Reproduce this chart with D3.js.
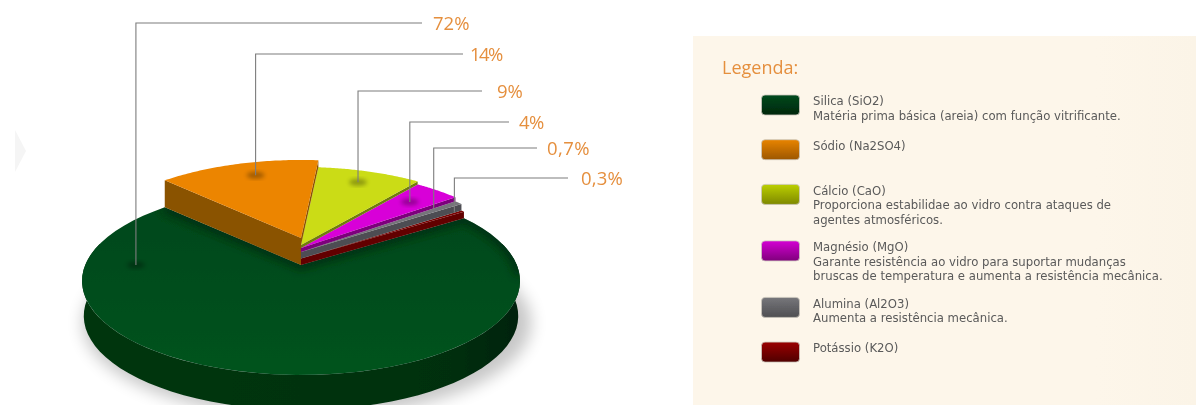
<!DOCTYPE html>
<html><head><meta charset="utf-8">
<script src="https://d3js.org/d3.v7.min.js"></script>
<style>html,body{margin:0;padding:0;background:#fff;overflow:hidden}svg{display:block}</style>
</head><body><svg id="c" width="1196" height="405"></svg>
<script>
// ---- data ----
const names = ["Silica (SiO2)","Sódio (Na2SO4)","Cálcio (CaO)","Magnésio (MgO)","Alumina (Al2O3)","Potássio (K2O)"];
const values = [72,14,9,4,0.7,0.3];
const valueLabels = ["72%","14%","9%","4%","0,7%","0,3%"];
const descriptions = [
  ["Matéria prima básica (areia) com função vitrificante."],
  [],
  ["Proporciona estabilidae ao vidro contra ataques de","agentes atmosféricos."],
  ["Garante resistência ao vidro para suportar mudanças","bruscas de temperatura e aumenta a resistência mecânica."],
  ["Aumenta a resistência mecânica."],
  []
];
const topColors = ["#004f1e","#ec8500","#cbdc14","#d800d8","#75757a","#7a0000"];
const wallColors = ["#00360f","#8a5200","#6f7a08","#7c007c","#4e4e52","#620000"];
const swatchTop = ["#004a1c","#e88400","#bcd000","#d400d4","#77777b","#9a0000"];
const swatchBottom = ["#00260c","#9c5600","#7e8800","#80007c","#4e4e52","#500000"];
const lifts = [0,27,20,17,13,6.5];
const leaderY = [23,54,91,122,148,178];
const leaderEnd = [422,463,482,509,537,568];
const labelX = [433,470,497,519,547,581];
const labelSpacing = [0,-1.6,0,-.5,.4,.2];
const anchorAngle = [270,-17,21,45,52.7,54.2];
const anchorR = [.765,.815,.835,.78,.84,.96];

const rad = Math.PI/180;
const svg = d3.select("#c");
const defs = svg.append("defs");
const blur = (id,s)=>defs.append("filter").attr("id",id).attr("x","-30%").attr("y","-30%").attr("width","160%").attr("height","160%")
  .append("feGaussianBlur").attr("stdDeviation",s);
blur("b8",8);blur("b4",4);blur("b2",2);blur("soft",0.45);
const vgrad=(id,a,b)=>{const g=defs.append("linearGradient").attr("id",id).attr("x1",0).attr("y1",0).attr("x2",0).attr("y2",1);
  g.append("stop").attr("offset",0).attr("stop-color",a);g.append("stop").attr("offset",1).attr("stop-color",b);};
names.forEach((n,i)=>vgrad("sw"+i,swatchTop[i],swatchBottom[i]));
vgrad("face","#00481a","#00531f");
const sg=defs.append("linearGradient").attr("id","side").attr("x1",0).attr("x2",1).attr("y1",0).attr("y2",0);
[[0,"#00360f"],[.5,"#003310"],[.85,"#002f0d"],[1,"#00220a"]].forEach(s=>sg.append("stop").attr("offset",s[0]).attr("stop-color",s[1]));
const pg=defs.append("linearGradient").attr("id","panel").attr("x1",0).attr("x2",1).attr("y1",0).attr("y2",0);
pg.append("stop").attr("offset",0).attr("stop-color","#fdf6ea");pg.append("stop").attr("offset",.8).attr("stop-color","#fdf6ea");pg.append("stop").attr("offset",1).attr("stop-color","#fbf4e7");

// ---- perspective projection of the disc ----
const cx=301,cy=265,ax=215.8,ay=91.3,k=.17;
function proj(aDeg,r,lift){const a=aDeg*rad,u=r*Math.sin(a),v=-r*Math.cos(a),w=1-k*v;
  return [cx+ax*u/w, cy+ay*v/w-(lift||0)];}
const line=d3.line();
const ring=(a0,a1,lift,r=1)=>d3.range(0,61).map(i=>proj(a0+(a1-a0)*i/60,r,lift));

// ---- pie through d3 ----
const pie=d3.pie().sort(null).value(d=>d).startAngle(-304.2*rad).endAngle(55.8*rad);
const arcs=pie(values).map(d=>({a0:d.startAngle/rad,a1:d.endAngle/rad,i:d.index}));

// panel + faint arrow
svg.append("rect").attr("x",693).attr("y",36).attr("width",503).attr("height",369).attr("fill","url(#panel)");
svg.append("path").attr("d",d3.line()([[15,130],[26,151],[15,172]])+"Z").attr("fill","#f5f5f5").attr("filter","url(#soft)");

const g=svg.append("g").attr("filter","url(#soft)");
// ground shadow
const full=ring(0,360,0,1);
g.append("path").attr("d",line(full.map(p=>[cx+(p[0]-cx)*1.025+6,p[1]+42]))+"Z").attr("fill","#000").attr("opacity",.22).attr("filter","url(#b8)");
// disc side wall
const base=ring(76,284,0).map(p=>[cx+(p[0]-cx)*.992,p[1]+35]);
g.append("path").attr("d",line(ring(76,284,0).concat(base.reverse()))+"Z").attr("fill","url(#side)");

// silica top
const sil=arcs[0];
g.append("path").attr("d",line([[cx,cy],...ring(sil.a0,sil.a1,0)])+"Z").attr("fill","url(#face)");
defs.append("clipPath").attr("id","silClip").append("path").attr("d",line([[cx,cy],...ring(sil.a0,sil.a1,0)])+"Z");
// contact shadow on the silica face
g.append("g").attr("clip-path","url(#silClip)").append("path")
  .attr("d",line([proj(sil.a1,1,0),[cx,cy],proj(sil.a0,1,0),...ring(sil.a0,sil.a0+40,0)]))
  .attr("fill","none").attr("stroke","#00240a").attr("stroke-width",9).attr("opacity",.7).attr("filter","url(#b4)");

// lifted slices, back to front
for(let i=5;i>=1;i--){
  const s=arcs[i],h=lifts[i];
  const next=i<5?lifts[i+1]:0;
  if(i===1) g.append("path").attr("d",line([[cx,cy-h],proj(s.a0,1,h),proj(s.a0,1,0),[cx,cy]])+"Z").attr("fill",wallColors[i]);
  g.append("path").attr("d",line([[cx,cy-h],proj(s.a1,1,h),proj(s.a1,1,next),[cx,cy-next]])+"Z").attr("fill",wallColors[i]);
  g.append("path").attr("d",line([[cx,cy-h],...ring(s.a0,s.a1,h)])+"Z").attr("fill",topColors[i]);
}

// leaders
const anchors=anchorAngle.map((a,i)=>proj(a,anchorR[i],lifts[i]));
const sh=svg.append("g");
anchors.forEach((p,i)=>{ if(i<4) sh.append("ellipse").attr("cx",p[0]).attr("cy",p[1]).attr("rx",9).attr("ry",3.5).attr("fill","#000").attr("opacity",.3).attr("filter","url(#b2)"); });
const lead=svg.append("g").attr("filter","url(#soft)");
anchors.forEach((p,i)=>{
  lead.append("path").attr("fill","none").attr("stroke","#7d7d7d").attr("stroke-width",1.1)
    .attr("d",line([p,[p[0],leaderY[i]],[leaderEnd[i],leaderY[i]]]));
  lead.append("text").attr("x",labelX[i]).attr("y",leaderY[i]+6.5).text(valueLabels[i])
    .attr("font-family","'Open Sans'").attr("font-size",18.5).attr("letter-spacing",labelSpacing[i]).attr("fill","#e58f3e");
});

// legend
const leg=svg.append("g").attr("filter","url(#soft)");
leg.append("text").attr("x",722).attr("y",74).text("Legenda:").attr("font-family","'Open Sans'").attr("font-size",18).attr("fill","#e58f3e");
let y=95;
names.forEach((n,i)=>{
  leg.append("rect").attr("x",761.5).attr("y",y).attr("width",38).attr("height",20).attr("rx",3.5).attr("fill","url(#sw"+i+")").attr("stroke","#ccc7bd").attr("stroke-width",.8);
  [n,...descriptions[i]].forEach((t,j)=>leg.append("text").attr("x",813).attr("y",y+10.3+j*14.6).text(t)
    .attr("font-family","'DejaVu Sans'").attr("font-size",11.7).attr("fill","#5a5a5a"));
  y+=descriptions[i].length===2?56.5:44.7;
});
</script></body></html>
